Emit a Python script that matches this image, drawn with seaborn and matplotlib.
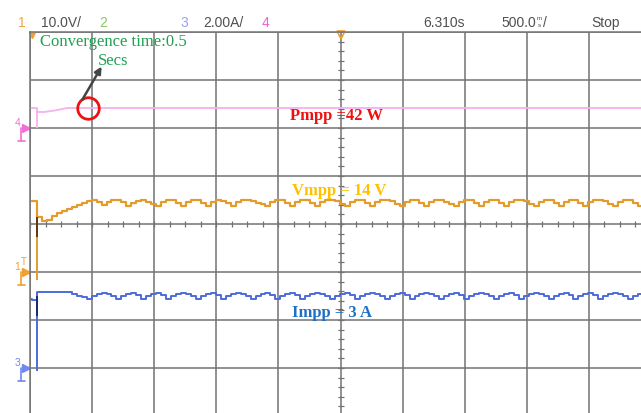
import numpy as np
import pandas as pd
import matplotlib.pyplot as plt
import seaborn as sns

# scope channel settings (scale per div, ground marker position in div)
ch1_scale, ch1_ground = 10.0, -1.0    # Vmpp, V/div
ch3_scale, ch3_ground = 2.0, -3.0     # Impp, A/div
ch4_scale, ch4_ground = 100.0, 2.0    # Pmpp (math), W/div
time_per_div = 0.5

# sampled traces, dt = 40 ms, first sample just left of the screen
t0, dt = -0.024, 0.04
vmpp = [14.8, 14.8, 11.5, 10.6, 10.8, 11.7, 12.3, 12.7, 13.1, 13.5,
        13.9, 14.4, 14.8, 15.0, 14.6, 14.0, 14.6, 15.0, 15.0, 14.6,
        13.8, 14.4, 14.8, 15.0, 14.6, 14.2, 13.8, 14.6, 15.0, 15.0,
        14.4, 13.8, 14.6, 15.0, 15.0, 14.4, 13.8, 14.6, 15.0, 14.8,
        14.4, 13.8, 14.6, 15.0, 15.0, 14.8, 14.4, 14.2, 13.8, 14.6,
        15.0, 15.0, 14.4, 13.8, 14.6, 15.0, 15.0, 14.4, 13.8, 14.6,
        15.0, 15.0, 14.8, 14.2, 13.8, 14.6, 15.0, 15.0, 14.4, 13.8,
        14.6, 15.0, 15.0, 14.8, 14.2, 13.8, 14.6, 15.0, 15.0, 14.4,
        13.8, 14.6, 15.0, 15.0, 14.6, 14.2, 13.8, 14.6, 15.0, 15.0,
        14.4, 13.8, 14.6, 15.0, 15.0, 14.4, 13.8, 14.6, 15.0, 15.0,
        14.8, 14.2, 13.8, 14.6, 15.0, 15.0, 14.4, 13.8, 14.6, 15.0,
        15.0, 14.4, 13.8, 14.6, 15.0, 15.0, 14.8, 14.2, 13.8, 14.6,
        15.0, 15.0, 14.4, 13.8, 14.6]
impp = [2.88, 2.85, 3.17, 3.17, 3.17, 3.17, 3.17, 3.17, 3.15, 3.10,
        3.02, 2.96, 2.88, 3.00, 3.08, 3.13, 3.08, 3.00, 2.88, 3.02,
        3.10, 3.13, 3.04, 2.88, 3.02, 3.10, 3.13, 3.04, 2.88, 3.00,
        3.08, 3.13, 3.10, 3.02, 2.88, 3.02, 3.10, 3.13, 3.04, 2.88,
        3.00, 3.08, 3.13, 3.10, 3.02, 2.88, 3.02, 3.10, 3.13, 3.04,
        2.88, 3.02, 3.10, 3.13, 3.04, 2.88, 3.00, 3.08, 3.13, 3.10,
        3.02, 2.88, 3.02, 3.10, 3.13, 3.04, 2.88, 3.00, 3.08, 3.13,
        3.10, 3.02, 2.88, 3.02, 3.10, 3.13, 3.04, 2.88, 3.00, 3.08,
        3.13, 3.10, 3.02, 2.88, 3.02, 3.10, 3.13, 3.04, 2.88, 3.00,
        3.08, 3.13, 3.10, 3.02, 2.88, 3.02, 3.10, 3.13, 3.04, 2.88,
        3.00, 3.08, 3.13, 3.10, 3.02, 2.88, 3.02, 3.10, 3.13, 3.04,
        2.88, 3.02, 3.10, 3.13, 3.04, 2.88, 3.00, 3.08, 3.13, 3.10,
        3.02, 2.88, 3.02, 3.10, 3.13]
# power trace is smooth, only a few points needed
pmpp_t = [-0.024, 0.056, 0.056, 0.11, 0.2, 0.3, 4.96]
pmpp_w = [41.7, 41.7, 33.3, 33.3, 36.5, 41.7, 41.7]

# start-up spike when the converter is switched on
t_on = 0.056
v_spike, v_dark = (-1.7, 14.8), (7.3, 11.5)
i_spike, i_dark = (-0.12, 3.17), (2.17, 3.0)
p_spike = (0.0, 41.7)
conv_time = 0.47

c_v, c_i, c_p = '#e39b2c', '#4d6bd9', '#f8b0ee'
grid_c = '#737373'

t = t0 + dt * np.arange(len(vmpp))
df_v = pd.DataFrame({'t': t, 'div': np.array(vmpp) / ch1_scale + ch1_ground})
df_i = pd.DataFrame({'t': t, 'div': np.array(impp) / ch3_scale + ch3_ground})
df_p = pd.DataFrame({'t': pmpp_t, 'div': np.array(pmpp_w) / ch4_scale + ch4_ground})

sns.set_style('white')
plt.rcParams['font.family'] = ['Liberation Sans', 'DejaVu Sans']

fig = plt.figure(figsize=(6.41, 4.14), dpi=100)
ax = fig.add_axes([30 / 641, 0, 611 / 641, 381 / 414])

# graticule
ax.set_xticks(np.arange(0, 5.01, time_per_div))
ax.set_yticks(np.arange(-3, 5))
ax.grid(True, color=grid_c, lw=1.1)
ax.tick_params(length=0, labelbottom=False, labelleft=False)
for s in ['right', 'bottom']:
    ax.spines[s].set_visible(False)
for s in ['top', 'left']:
    ax.spines[s].set_color(grid_c)
    ax.spines[s].set_linewidth(1.1)
tx = np.arange(0, 5, 0.125)
ax.plot(tx, np.zeros_like(tx), ls='none', marker='|', ms=5, mew=0.9, color=grid_c)
ty = np.arange(-4, 4, 0.2)
ax.plot(np.full_like(ty, 2.5), ty, ls='none', marker='_', ms=5, mew=0.9, color=grid_c)

# traces
sns.lineplot(data=df_p, x='t', y='div', color=c_p, lw=1.3, estimator=None, sort=False, ax=ax)
sns.lineplot(data=df_v, x='t', y='div', color=c_v, lw=1.6, drawstyle='steps-post',
             estimator=None, sort=False, ax=ax)
sns.lineplot(data=df_i, x='t', y='div', color=c_i, lw=1.4, drawstyle='steps-post',
             estimator=None, sort=False, ax=ax)
ax.vlines(t_on, p_spike[0] / ch4_scale + ch4_ground, p_spike[1] / ch4_scale + ch4_ground, color=c_p, lw=1.3)
ax.vlines(t_on, v_spike[0] / ch1_scale + ch1_ground, v_spike[1] / ch1_scale + ch1_ground, color=c_v, lw=1.4)
ax.vlines(t_on, v_dark[0] / ch1_scale + ch1_ground, v_dark[1] / ch1_scale + ch1_ground, color='#5a3a12', lw=1.4)
ax.vlines(t_on, i_spike[0] / ch3_scale + ch3_ground, i_spike[1] / ch3_scale + ch3_ground, color=c_i, lw=1.4)
ax.vlines(t_on, i_dark[0] / ch3_scale + ch3_ground, i_dark[1] / ch3_scale + ch3_ground, color='#1c2a6e', lw=1.4)

# screen is 10 x 8 div but the capture is cut at the right and bottom
ax.set_xlim(0, 611 / 124.2)
ax.set_ylim(4 - 381 / 48, 4)

# ground / trigger markers at the left edge
for g, c, lab in [(ch4_ground, '#f070d8', '4'), (ch1_ground, '#f0a030', '1'), (ch3_ground, '#7088f0', '3')]:
    ax.plot(-0.035, g, marker='>', ms=6, color=c, clip_on=False)
    ax.plot([-0.07, -0.07], [g, g - 0.28], color=c, lw=1.2, clip_on=False)
    ax.plot([-0.1, -0.04], [g - 0.28, g - 0.28], color=c, lw=1.2, clip_on=False)
    ax.text(-0.1, g + 0.02, lab, color=c, fontsize=7.5, ha='center', va='bottom', clip_on=False)
ax.text(-0.05, ch1_ground + 0.12, 'T', color='#f0a030', fontsize=7, ha='center', va='bottom')
ax.plot(2.5, 3.93, marker='v', ms=6, mfc='none', mec='#f0a030', mew=1.2, clip_on=False)
ax.plot(0.02, 3.94, marker='v', ms=4, color='#f0a030', clip_on=False)

# annotations
ax.text(0.672, 3.97, 'Convergence time:0.5\nSecs', color='#1fa052', fontsize=12,
        family='Liberation Serif', ha='center', va='top', linespacing=1.25)
ax.annotate('', xy=(0.588, 3.33), xytext=(0.41, 2.54),
            arrowprops=dict(arrowstyle='-|>', color='#454545', lw=1.8, mutation_scale=10))
ax.plot(conv_time, pmpp_w[-1] / ch4_scale + ch4_ground, marker='o', ms=15.5,
        mfc='none', mec='#ee1111', mew=2)
ax.text(2.464, 2.27, 'Pmpp =42 W', color='#ee1111', fontsize=12, weight='bold',
        family='Liberation Serif', ha='center', va='center')
ax.text(2.488, 0.70, 'Vmpp = 14 V', color='#ffc000', fontsize=12, weight='bold',
        family='Liberation Serif', ha='center', va='center')
ax.text(2.43, -1.83, 'Impp = 3 A', color='#1f6fc4', fontsize=12, weight='bold',
        family='Liberation Serif', ha='center', va='center')

# header bar
hy = 1 - 27 / 414
head = [(18, '1', '#f0a848'), (41, '10.0V/', '#505050'), (99, '2', '#88c868'),
        (180, '3', '#9aa2f0'), (203, '2.00A/', '#505050'), (262, '4', '#f060c8'),
        (423, '6.310s', '#505050'), (501, '500.0', '#505050'), (543, '/', '#505050'),
        (591, 'Stop', '#505050')]
for x, s, c in head:
    fig.text(x / 641, hy, s, color=c, fontsize=10, ha='left', va='baseline')
fig.text(539.5 / 641, 1 - 20 / 414, 'm', color='#505050', fontsize=4.5, ha='center', va='baseline')
fig.text(539.5 / 641, hy, 's', color='#505050', fontsize=4.5, ha='center', va='baseline')

fig.savefig('out.png', dpi=100, facecolor='white')
